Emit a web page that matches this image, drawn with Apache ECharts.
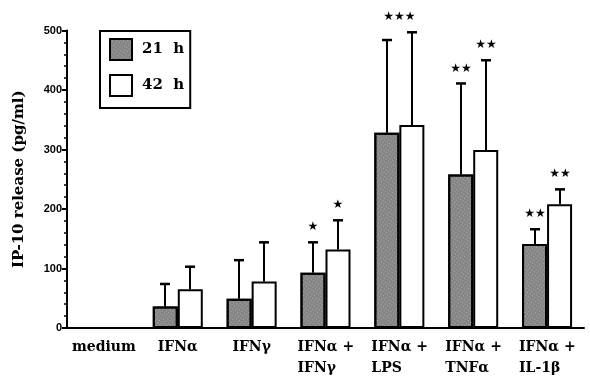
<!DOCTYPE html>
<html><head><meta charset="utf-8">
<script src="https://cdn.jsdelivr.net/npm/echarts@6/dist/echarts.min.js"></script>
<style>html,body{margin:0;padding:0;background:#fff}#c{width:590px;height:379px}</style>
</head><body><div id="c"></div>
<script>
const categories = ['medium', 'IFNα', 'IFNγ', 'IFNα +\nIFNγ', 'IFNα +\nLPS', 'IFNα +\nTNFα', 'IFNα +\nIL-1β'];
const seriesNames = ['21  h', '42  h'];
const h21 = [0, 36, 49, 93, 328, 258, 141];
const h21Err = [null, 74, 114, 144, 484, 411, 166];
const h42 = [0, 65, 78, 132, 341, 299, 208];
const h42Err = [null, 103, 144, 181, 497, 450, 233];
const stars21 = ['', '', '', '★', '', '★★', '★★'];
const stars42 = ['', '', '', '★', '', '★★', '★★'];
const groupStars = ['', '', '', '', '★★★', '', ''];
const yTicks = [0, 100, 200, 300, 400, 500];

const BW = 25;
const serif = '"DejaVu Serif"';
const starFont = '12px "DejaVu Sans"';
const chart = echarts.init(document.getElementById('c'), null, {renderer: 'canvas'});

function errSeries(vals, errs, stars, offset) {
  return {
    type: 'custom', z: 5, silent: true,
    data: vals.map((v, i) => [i, v]),
    encode: {x: 0, y: 1},
    renderItem: (params, api) => {
      const i = params.dataIndex;
      const e = errs[i];
      if (e == null) return null;
      const base = api.coord([i, vals[i]]);
      const top = api.coord([i, e]);
      const x = Math.round(base[0] + offset);
      const children = [
        {type: 'line', shape: {x1: x, y1: base[1], x2: x, y2: top[1]}, style: {stroke: '#000', lineWidth: 2}},
        {type: 'line', shape: {x1: x - 5, y1: top[1], x2: x + 5, y2: top[1]}, style: {stroke: '#000', lineWidth: 2.5}}
      ];
      if (stars[i]) children.push({type: 'text', style: {text: stars[i], x: x, y: top[1] - 15, align: 'center', verticalAlign: 'middle', font: starFont, fill: '#000'}});
      return {type: 'group', children};
    }
  };
}

const option = {
  animation: false,
  backgroundColor: '#fff',
  grid: {left: 67, right: 6, top: 30.5, bottom: 51},
  legend: {
    orient: 'vertical', left: 100, top: 31,
    itemWidth: 22, itemHeight: 21, itemGap: 13,
    padding: [7, 6, 11, 9],
    borderColor: '#000', borderWidth: 2,
    icon: 'rect',
    textStyle: {fontFamily: serif, fontWeight: 'bold', fontSize: 15, color: '#000', padding: [0, 0, 0, 5]},
    data: [
      {name: seriesNames[0], itemStyle: {color: '#858585', borderColor: '#000', borderWidth: 2}},
      {name: seriesNames[1], itemStyle: {color: '#fff', borderColor: '#000', borderWidth: 2}}
    ]
  },
  xAxis: {
    type: 'category', data: categories,
    axisLine: {lineStyle: {color: '#000', width: 2}},
    axisTick: {show: false},
    axisLabel: {
      interval: 0, margin: 9,
      formatter: v => v.indexOf('\n') >= 0 ? v.split('\n').map(s => '{l|' + s + '}').join('\n') : '{c|' + v + '}',
      rich: {
        l: {width: 56, align: 'left', fontFamily: serif, fontWeight: 'bold', fontSize: 14, lineHeight: 21, color: '#000'},
        c: {fontFamily: serif, fontWeight: 'bold', fontSize: 14, lineHeight: 21, color: '#000'}
      }
    }
  },
  yAxis: {
    type: 'value', min: yTicks[0], max: yTicks[yTicks.length - 1], interval: 100,
    name: 'IP-10 release (pg/ml)', nameLocation: 'middle', nameGap: 40,
    nameTextStyle: {fontFamily: serif, fontWeight: 'bold', fontSize: 15, color: '#000'},
    axisLine: {show: true, lineStyle: {color: '#000', width: 2}},
    axisTick: {show: true, length: 5, lineStyle: {color: '#000', width: 2}},
    minorTick: {show: true, splitNumber: 5, length: 3, lineStyle: {color: '#000', width: 1.5}},
    splitLine: {show: false},
    axisLabel: {margin: 5, fontFamily: '"Liberation Sans"', fontWeight: 'bold', fontSize: 11, color: '#000'}
  },
  series: [
    {name: seriesNames[0], type: 'bar', data: h21, barWidth: BW, barGap: '0%',
      itemStyle: {color: '#858585', borderColor: '#000', borderWidth: 2,
        decal: {symbol: 'rect', symbolSize: 1, color: 'rgba(255,255,255,0.35)', dashArrayX: [1, 2], dashArrayY: [1, 2], rotation: 0.6}}},
    {name: seriesNames[1], type: 'bar', data: h42, barWidth: BW, barGap: '0%',
      itemStyle: {color: '#fff', borderColor: '#000', borderWidth: 2}},
    errSeries(h21, h21Err, stars21, -BW / 2),
    errSeries(h42, h42Err, stars42, BW / 2),
    {
      type: 'custom', z: 6, silent: true,
      data: groupStars.map((s, i) => [i, 0]),
      encode: {x: 0, y: 1},
      renderItem: (params, api) => {
        const i = params.dataIndex;
        if (!groupStars[i]) return null;
        const e = Math.max(h21Err[i], h42Err[i]);
        const p = api.coord([i, e]);
        return {type: 'text', style: {text: groupStars[i], x: p[0], y: p[1] - 15, align: 'center', verticalAlign: 'middle', font: starFont, fill: '#000'}};
      }
    }
  ]
};
chart.setOption(option);
</script>
</body></html>
